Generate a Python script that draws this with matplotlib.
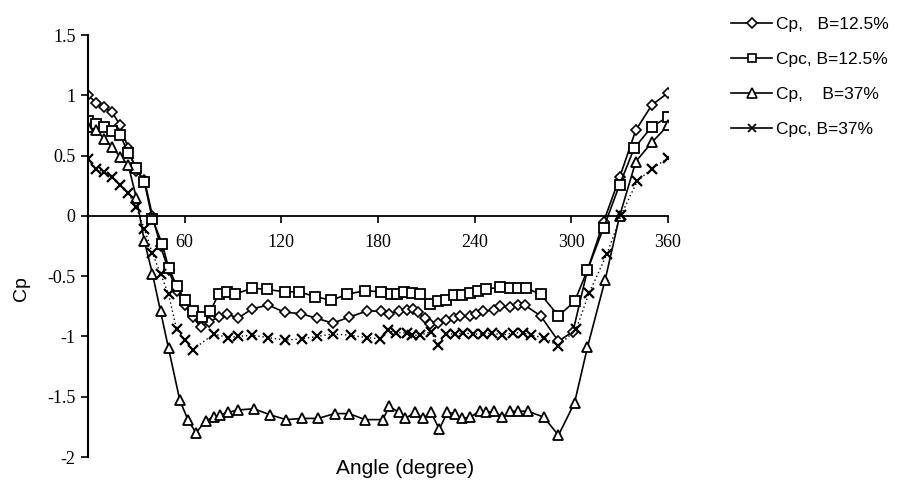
import matplotlib
matplotlib.use("Agg")
import matplotlib.pyplot as plt
from matplotlib.lines import Line2D

# Pressure coefficient around the cylinder, blockage B = 12.5 %
ang_cp_125 = [0, 5, 10, 15, 20, 25, 30, 35, 40, 45, 50, 55, 60, 65, 70, 75, 81, 86, 93,
              102, 112, 122, 132, 142, 152, 162, 173, 182, 187, 193, 198, 202, 205, 209,
              212, 217, 222, 227, 231, 237, 241, 245, 252, 256, 262, 267, 271, 281, 292,
              301, 310, 320, 330, 340, 350, 360]
cp_125 = [1.00, 0.94, 0.90, 0.86, 0.75, 0.56, 0.37, 0.30, 0.00, -0.25, -0.45, -0.62, -0.74,
          -0.84, -0.92, -0.88, -0.84, -0.81, -0.85, -0.77, -0.74, -0.80, -0.81, -0.85, -0.89,
          -0.84, -0.79, -0.79, -0.81, -0.79, -0.78, -0.77, -0.80, -0.85, -0.90, -0.89, -0.86,
          -0.85, -0.83, -0.83, -0.81, -0.79, -0.78, -0.75, -0.76, -0.74, -0.74, -0.83, -1.04,
          -0.96, -0.45, -0.05, 0.32, 0.71, 0.92, 1.02]

# Corrected pressure coefficient, B = 12.5 %
ang_cpc_125 = [0, 5, 10, 15, 20, 25, 30, 35, 40, 46, 50, 55, 60, 65, 71, 76, 81, 86, 91,
               102, 111, 122, 131, 141, 151, 161, 172, 182, 188, 192, 196, 201, 206, 212,
               217, 222, 227, 232, 237, 242, 247, 256, 262, 267, 272, 281, 292, 302, 310,
               320, 330, 339, 350, 360]
cpc_125 = [0.79, 0.76, 0.74, 0.70, 0.67, 0.52, 0.40, 0.28, -0.03, -0.23, -0.43, -0.58, -0.70,
           -0.79, -0.84, -0.79, -0.65, -0.63, -0.65, -0.60, -0.61, -0.63, -0.63, -0.67, -0.70,
           -0.65, -0.62, -0.63, -0.65, -0.65, -0.63, -0.64, -0.65, -0.73, -0.71, -0.70, -0.66,
           -0.66, -0.64, -0.62, -0.61, -0.59, -0.60, -0.60, -0.60, -0.65, -0.83, -0.71, -0.45,
           -0.10, 0.26, 0.56, 0.74, 0.82]

# Pressure coefficient, B = 37 %
ang_cp_37 = [0, 5, 10, 15, 20, 25, 30, 35, 40, 45, 50, 57, 62, 67, 73, 78, 82, 87, 93,
             103, 113, 123, 133, 143, 153, 162, 172, 183, 187, 193, 197, 203, 208, 213,
             218, 223, 228, 232, 237, 243, 247, 252, 257, 262, 267, 273, 283, 292, 302,
             310, 321, 330, 340, 350, 360]
cp_37 = [0.74, 0.71, 0.64, 0.57, 0.49, 0.42, 0.15, -0.21, -0.48, -0.79, -1.10, -1.53, -1.69,
         -1.80, -1.70, -1.67, -1.65, -1.63, -1.61, -1.60, -1.65, -1.69, -1.68, -1.68, -1.64,
         -1.64, -1.69, -1.69, -1.58, -1.63, -1.68, -1.63, -1.68, -1.63, -1.77, -1.63, -1.64,
         -1.68, -1.67, -1.62, -1.63, -1.62, -1.67, -1.62, -1.62, -1.62, -1.67, -1.82, -1.55,
         -1.09, -0.53, 0.00, 0.45, 0.61, 0.75]

# Corrected pressure coefficient, B = 37 %
ang_cpc_37 = [0, 5, 10, 15, 20, 25, 30, 35, 40, 45, 50, 55, 60, 65, 78, 87, 93, 102, 112,
              122, 133, 142, 152, 163, 173, 181, 186, 191, 198, 201, 206, 213, 217, 222,
              228, 233, 239, 245, 251, 257, 264, 270, 275, 283, 292, 303, 311, 322, 331,
              341, 350, 360]
cpc_37 = [0.47, 0.39, 0.36, 0.32, 0.26, 0.19, 0.07, -0.11, -0.31, -0.48, -0.65, -0.94, -1.03,
          -1.11, -0.98, -1.01, -1.00, -0.99, -1.01, -1.03, -1.02, -1.00, -0.98, -0.99, -1.01,
          -1.02, -0.95, -0.97, -0.97, -0.99, -0.99, -0.96, -1.07, -0.98, -0.98, -0.97, -0.98,
          -0.98, -0.97, -0.99, -0.97, -0.97, -0.99, -1.01, -1.08, -0.94, -0.64, -0.32, 0.01,
          0.29, 0.39, 0.48]

labels = ["Cp,   B=12.5%", "Cpc, B=12.5%", "Cp,    B=37%", "Cpc, B=37%"]
x_ticks = [60, 120, 180, 240, 300, 360]
y_ticks = [-2, -1.5, -1, -0.5, 0, 0.5, 1, 1.5]
y_tick_labels = ["-2", "-1.5", "-1", "-0.5", "0", "0.5", "1", "1.5"]

sans = ["Liberation Sans", "DejaVu Sans"]
serif = ["Liberation Serif", "DejaVu Serif"]

fig = plt.figure(figsize=(8.97, 4.94), dpi=100)
ax = fig.add_axes([88 / 897, 1 - 457 / 494, 580 / 897, 422 / 494])

common = dict(color="black", lw=1.2, mfc="white", mec="black")
ax.plot(ang_cp_125, cp_125, marker="D", ms=5, mew=1.2, **common)
ax.plot(ang_cpc_125, cpc_125, marker="s", ms=6.5, mew=1.3, **common)
ax.plot(ang_cp_37, cp_37, marker="^", ms=7, mew=1.3, **common)
ax.plot(ang_cpc_37, cpc_37, marker="x", ms=7.5, mew=1.6, color="black",
        lw=1.0, ls=(0, (1, 2)))

ax.set_xlim(0, 360)
ax.set_ylim(-2, 1.5)

for side in ("top", "right"):
    ax.spines[side].set_visible(False)
ax.spines["bottom"].set_position(("data", 0))
ax.spines["left"].set_linewidth(1.5)
ax.spines["bottom"].set_linewidth(1.3)

ax.set_xticks(x_ticks)
ax.set_xticklabels([str(t) for t in x_ticks], fontfamily=serif, fontsize=13)
ax.set_yticks(y_ticks)
ax.set_yticklabels(y_tick_labels, fontfamily=serif, fontsize=13)
ax.tick_params(axis="x", direction="out", length=5, width=1.2, pad=8)
ax.tick_params(axis="y", direction="out", length=5, width=1.2, pad=4)

fig.text(405 / 897, 1 - 468 / 494, "Angle (degree)", ha="center", va="center",
         fontfamily=sans, fontsize=15)
ax.set_ylabel("Cp", fontfamily=sans, fontsize=14)
ax.yaxis.set_label_coords(-0.1, 0.4)

handles = [
    Line2D([], [], color="black", lw=1.2, marker="D", ms=5, mfc="white", mew=1.2),
    Line2D([], [], color="black", lw=1.2, marker="s", ms=6, mfc="white", mew=1.2),
    Line2D([], [], color="black", lw=1.2, marker="^", ms=6.5, mfc="white", mew=1.2),
    Line2D([], [], color="black", lw=1.2, marker="x", ms=6, mew=1.3),
]
fig.legend(handles, labels, loc="upper left", bbox_to_anchor=(722 / 897, 1 - 8 / 494),
           bbox_transform=fig.transFigure, frameon=False, handlelength=2.4,
           handletextpad=0.2, labelspacing=1.15, borderpad=0,
           prop={"family": sans, "size": 12.5})

fig.savefig("out.png", dpi=100)
